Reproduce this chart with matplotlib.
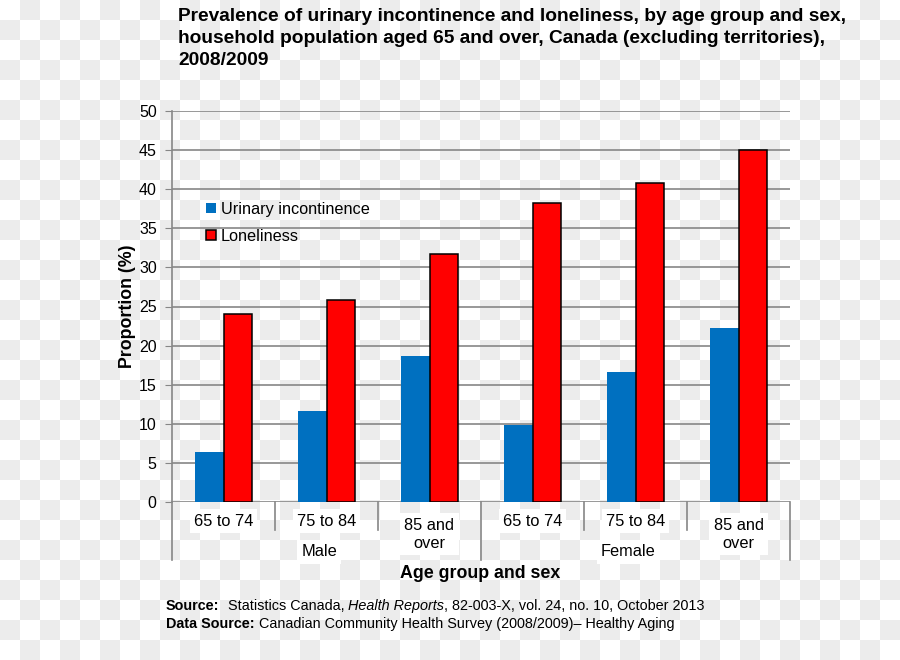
import numpy as np
import matplotlib
matplotlib.use("Agg")
import matplotlib.pyplot as plt
import matplotlib.transforms as mtrans

plt.rcParams['font.family'] = ['Liberation Sans', 'DejaVu Sans']

# data
age_groups = ["65 to 74", "75 to 84", "85 and\nover", "65 to 74", "75 to 84", "85 and\nover"]
sexes = ["Male", "Female"]
urinary = [6.4, 11.6, 18.7, 9.8, 16.6, 22.3]
loneliness = [24.0, 25.8, 31.7, 38.2, 40.8, 45.0]
y_ticks = [0, 5, 10, 15, 20, 25, 30, 35, 40, 45, 50]

title = ("Prevalence of urinary incontinence and loneliness, by age group and sex,\n"
         "household population aged 65 and over, Canada (excluding territories),\n"
         "2008/2009")

BLUE = "#0070C0"
RED = "#FF0000"
GREY = "#868686"

fig = plt.figure(figsize=(9, 6.6), dpi=100)

# checkered background like the source image
bg = fig.add_axes([0, 0, 1, 1], zorder=-10)
cols, rows = 45, 33
checker = (np.add.outer(np.arange(rows), np.arange(cols)) % 2).astype(float)
bg.imshow(checker, cmap=matplotlib.colors.ListedColormap(["#ffffff", "#ececec"]),
          extent=(0, 900, 660, 0), interpolation="nearest", aspect="auto")
bg.set_xlim(0, 900)
bg.set_ylim(660, 0)
bg.axis("off")

ax = fig.add_axes([172 / 900, 1 - 502 / 660, 618 / 900, 391 / 660])
ax.patch.set_alpha(0)

x = np.arange(len(age_groups))
w = 0.28
ax.bar(x - w / 2, urinary, w, color=BLUE, label="Urinary incontinence", zorder=3)
ax.bar(x + w / 2, loneliness, w, color=RED, edgecolor="black", linewidth=1.1,
       label="Loneliness", zorder=3)

ax.set_xlim(-0.5, len(age_groups) - 0.5)
ax.set_ylim(0, 50)
ax.set_yticks(y_ticks)
ax.tick_params(axis="y", labelsize=11.5, length=5, color=GREY, pad=6)
ax.set_xticks([])
for t in y_ticks:
    ax.axhline(t, color=GREY, lw=1.2, zorder=1)
for s in ["top", "right", "bottom"]:
    ax.spines[s].set_visible(False)
ax.spines["left"].set_color(GREY)
ax.spines["left"].set_linewidth(1.2)

# category axis with two levels
trans = mtrans.blended_transform_factory(ax.transData, ax.transAxes)
inner = -28 / 391
outer = -58 / 391
for i in range(len(age_groups) + 1):
    b = i - 0.5
    depth = outer if i % 3 == 0 else inner
    ax.plot([b, b], [0, depth], color=GREY, lw=1.2, transform=trans, clip_on=False)
for i, lab in enumerate(age_groups):
    yy = -19 / 391 if "\n" not in lab else -32 / 391
    ax.text(i, yy, lab, transform=trans, ha="center", va="center", fontsize=11.8,
            linespacing=1.25,
            bbox=dict(facecolor="white", edgecolor="none", pad=3))
for j, sx in enumerate(sexes):
    ax.text(j * 3 + 0.93, -50 / 391, sx, transform=trans, ha="center", va="center",
            fontsize=11.8, bbox=dict(facecolor="white", edgecolor="none", pad=3))

ax.set_ylabel("Proportion (%)", fontsize=12.8, fontweight="bold", labelpad=2)
fig.text(480 / 900, 1 - 573 / 660, "Age group and sex", ha="center", va="center",
         fontsize=12.8, fontweight="bold")

leg = ax.legend(loc="upper left", bbox_to_anchor=(0.045, 0.785), frameon=False,
                fontsize=11.7, handlelength=0.6, handleheight=0.6,
                handletextpad=0.3, labelspacing=0.75, borderaxespad=0)

fig.text(178 / 900, 1 - 8 / 660, title, ha="left", va="top", fontsize=13.8,
         fontweight="bold", linespacing=1.38)

# source lines with mixed styles
renderer = fig.canvas.get_renderer()


def run_text(x0, y0, pieces):
    xpos = x0
    for txt, style, weight in pieces:
        t = fig.text(xpos / 900, 1 - y0 / 660, txt, ha="left", va="center",
                     fontsize=10.4, fontstyle=style, fontweight=weight)
        xpos += t.get_window_extent(renderer).width


run_text(166, 606, [("Source:", "normal", "bold"),
                    ("  Statistics Canada, ", "normal", "normal"),
                    ("Health Reports", "italic", "normal"),
                    (", 82-003-X, vol. 24, no. 10, October 2013", "normal", "normal")])
run_text(166, 624, [("Data Source:", "normal", "bold"),
                    (" Canadian Community Health Survey (2008/2009)\u2013 Healthy Aging",
                     "normal", "normal")])

fig.savefig("out.png", dpi=100)
